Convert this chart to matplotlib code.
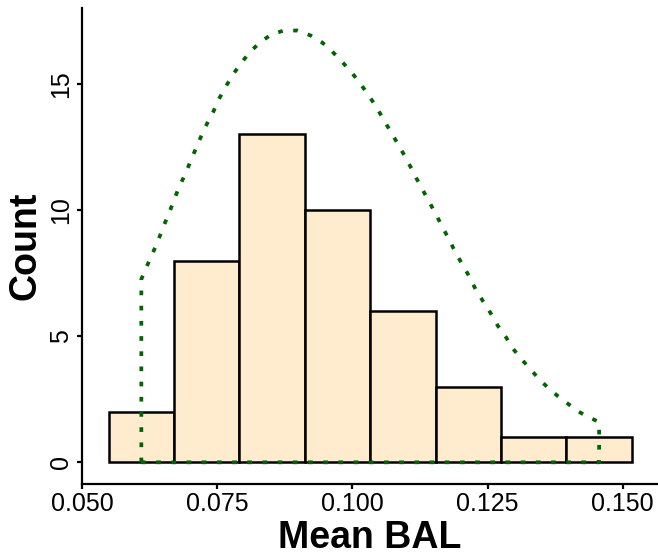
import matplotlib
matplotlib.use("Agg")
import matplotlib.pyplot as plt

plt.rcParams["font.family"] = ["Liberation Sans", "DejaVu Sans"]

# Histogram of mean BAL (8 bins)
bin_edges = [0.05492, 0.06701, 0.07911, 0.09120, 0.10329,
             0.11539, 0.12748, 0.13957, 0.15166]
counts = [2, 8, 13, 10, 6, 3, 1, 1]

# Density estimate scaled to counts (outline from min to max of the data)
density_x = [0.06097, 0.06196, 0.06307, 0.06411, 0.06503, 0.06609, 0.06701,
             0.06799, 0.06910, 0.07010, 0.07108, 0.07206, 0.07306, 0.07428,
             0.07539, 0.07676, 0.07816, 0.07972, 0.08125, 0.08310, 0.08508,
             0.08722, 0.08985, 0.09229, 0.09443, 0.09617, 0.09808, 0.09974,
             0.10141, 0.10283, 0.10431, 0.10558, 0.10682, 0.10817, 0.10940,
             0.11059, 0.11181, 0.11300, 0.11422, 0.11540, 0.11662, 0.11786,
             0.11897, 0.12021, 0.12156, 0.12285, 0.12420, 0.12557, 0.12687,
             0.12840, 0.12975, 0.13130, 0.13284, 0.13456, 0.13630, 0.13796,
             0.13974, 0.14166, 0.14375, 0.14562]
density_y = [7.26, 7.76, 8.29, 8.81, 9.34, 9.87, 10.40,
             10.93, 11.43, 11.95, 12.45, 12.94, 13.40, 13.90,
             14.43, 14.96, 15.45, 15.91, 16.31, 16.68, 16.97,
             17.11, 17.12, 16.92, 16.64, 16.31, 15.88, 15.49,
             15.03, 14.60, 14.13, 13.66, 13.20, 12.71, 12.25,
             11.78, 11.27, 10.80, 10.32, 9.85, 9.34, 8.84,
             8.36, 7.89, 7.39, 6.83, 6.37, 5.91, 5.42,
             4.96, 4.49, 4.08, 3.71, 3.29, 2.93, 2.63,
             2.34, 2.03, 1.78, 1.60]

x_ticks = [0.050, 0.075, 0.100, 0.125, 0.150]
x_tick_labels = ["0.050", "0.075", "0.100", "0.125", "0.150"]
y_ticks = [0, 5, 10, 15]

fig = plt.figure(figsize=(6.58, 5.58), dpi=100)
ax = fig.add_axes([82 / 658, (558 - 484) / 558, 576 / 658, 475.7 / 558])

lefts = bin_edges[:-1]
widths = [b - a for a, b in zip(bin_edges[:-1], bin_edges[1:])]
ax.bar(lefts, counts, width=widths, align="edge", color="#FFEBCD",
       edgecolor="black", linewidth=1.8, zorder=2)

# closed outline: up the left side, along the curve, down and back along zero
outline_x = [density_x[0]] + density_x + [density_x[-1], density_x[0]]
outline_y = [0] + density_y + [0, 0]
ax.plot(outline_x, outline_y, color="#006400", linewidth=2.7,
        linestyle=(0, (1.25, 2.8)), dash_capstyle="butt", zorder=3)

ax.set_xlim(0.05, 0.05 + 576 / 5408)
ax.set_ylim(-0.86, 18.0)

ax.set_xticks(x_ticks)
ax.set_xticklabels(x_tick_labels)
ax.set_yticks(y_ticks)
ax.set_yticklabels([str(v) for v in y_ticks], rotation=90, va="center")

ax.tick_params(axis="both", direction="out", length=3.5, width=1.6,
               labelsize=18, colors="black")
ax.tick_params(axis="x", pad=2.5)
ax.tick_params(axis="y", pad=3)

for side in ("top", "right"):
    ax.spines[side].set_visible(False)
for side in ("left", "bottom"):
    ax.spines[side].set_linewidth(1.6)

ax.set_xlabel("Mean BAL", fontsize=27, fontweight="bold", labelpad=3)
ax.set_ylabel("Count", fontsize=27, fontweight="bold", labelpad=4)

fig.savefig("out.png", dpi=100)
